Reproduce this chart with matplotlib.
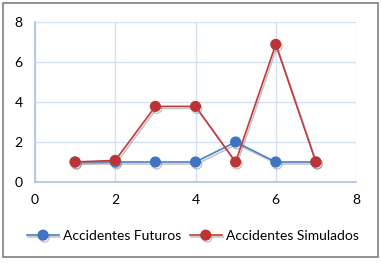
import matplotlib.pyplot as plt
import matplotlib.patheffects as pe
from matplotlib.patches import Rectangle

# data
x = [1, 2, 3, 4, 5, 6, 7]
futuros = [1, 1, 1, 1, 2, 1, 1]
simulados = [1, 1.08, 3.78, 3.78, 1, 6.88, 1]

plt.rcParams['font.family'] = ['Lato', 'DejaVu Sans']

W, H = 382, 263
fig = plt.figure(figsize=(W / 100, H / 100), dpi=100)
ax = fig.add_axes([35 / W, 1 - 182 / H, (356 - 35) / W, (182 - 22) / H])

shadow = [pe.SimpleLineShadow(offset=(1, -1.5), shadow_color='gray', alpha=0.45), pe.Normal()]

ax.plot(x, futuros, color='#4A7EC7', lw=1.2, marker='o', ms=7,
        mfc='#3E74C2', mec='#3E74C2', label='Accidentes Futuros', path_effects=shadow)
ax.plot(x, simulados, color='#C0393B', lw=1.2, marker='o', ms=7,
        mfc='#BE3336', mec='#BE3336', label='Accidentes Simulados', path_effects=shadow)

ax.set_xlim(0, 8)
ax.set_ylim(0, 8)
ax.set_xticks([0, 2, 4, 6, 8])
ax.set_yticks([0, 2, 4, 6, 8])
ax.grid(True, color='#D5E1F2', lw=1)
ax.set_axisbelow(True)
for s in ['top', 'right']:
    ax.spines[s].set_visible(False)
for s in ['left', 'bottom']:
    ax.spines[s].set_color('#A8C2E8')
    ax.spines[s].set_linewidth(1.2)
ax.tick_params(length=0, labelsize=10, colors='black', pad=9)

leg = fig.legend(loc='center', bbox_to_anchor=(0.505, 1 - 236 / H), ncol=2, frameon=False,
                 fontsize=10, handlelength=2.3, columnspacing=0.6, handletextpad=0.3)

fig.patches.append(Rectangle((3 / W, 1 - 257 / H), 375 / W, 254 / H, transform=fig.transFigure,
                             fill=False, edgecolor='#7F7F7F', lw=1.2))

fig.savefig('out.png', dpi=100)
